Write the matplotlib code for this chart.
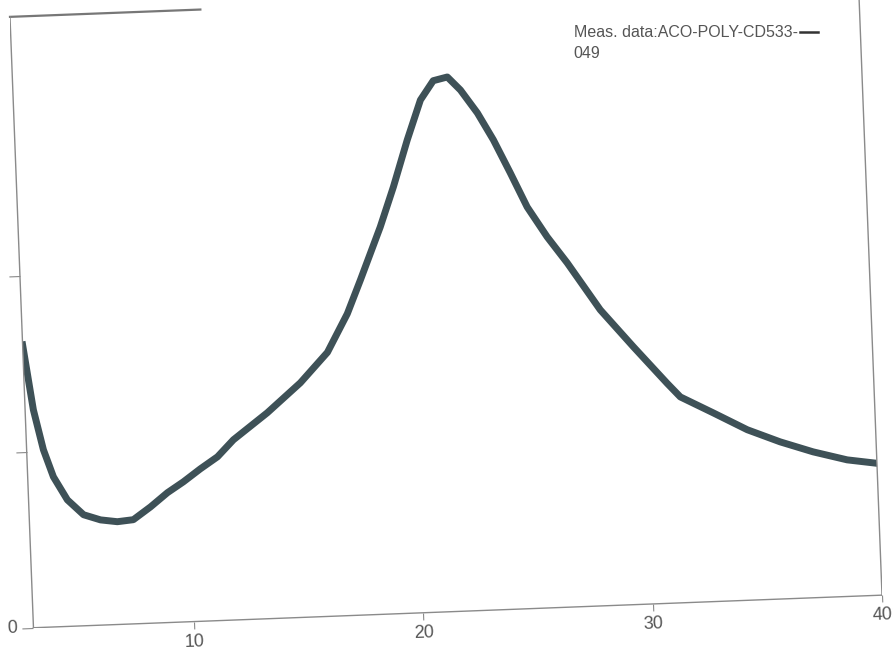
import matplotlib
matplotlib.use("Agg")
import matplotlib.pyplot as plt
from matplotlib.transforms import Affine2D
from mpl_toolkits.axisartist import floating_axes
from mpl_toolkits.axisartist.grid_finder import FixedLocator, DictFormatter

# XRD pattern (2-theta in degrees, intensity in counts)
two_theta = [3.0, 3.36, 3.73, 4.12, 4.69, 5.37, 6.10, 6.83, 7.53, 8.30,
             9.06, 9.77, 10.53, 11.30, 12.02, 13.54, 15.03, 16.26, 17.19, 17.82,
             18.77, 19.41, 20.09, 20.73, 21.32, 21.94, 22.49, 23.19, 23.84, 24.52,
             25.20, 26.02, 26.85, 28.21, 29.59, 31.00, 31.55, 32.96, 34.41, 35.82,
             37.24, 38.71, 40.0]
intensity = [1609, 1238, 1009, 853, 719, 631, 598, 584, 592, 661,
             738, 796, 866, 931, 1024, 1170, 1333, 1500, 1715, 1905,
             2201, 2426, 2689, 2913, 3020, 3038, 2961, 2827, 2671, 2480,
             2282, 2108, 1956, 1682, 1465, 1250, 1170, 1072, 969, 893,
             829, 776, 750]

x_min, x_max = 3, 40
y_min, y_max = 0, 3475
x_ticks = [10, 20, 30, 40]
y_ticks = [0, 1000, 2000]
y_tick_labels = {0: "0", 1000: "", 2000: ""}
legend_label = "Meas. data:ACO-POLY-CD533-"
legend_label_2 = "049"

plt.rcParams['font.family'] = ['Liberation Sans', 'DejaVu Sans']

grey = '#8a8a8a'
text_grey = '#555555'

fig = plt.figure(figsize=(8.95, 6.59), dpi=100)

# the scanned page is tilted a little, so the frame is rotated
tr = Affine2D().scale(22.96, 0.176).rotate_deg(2.2)
helper = floating_axes.GridHelperCurveLinear(
    tr, extremes=(x_min, x_max, y_min, y_max),
    grid_locator1=FixedLocator(x_ticks),
    tick_formatter1=DictFormatter({t: str(t) for t in x_ticks}),
    grid_locator2=FixedLocator(y_ticks),
    tick_formatter2=DictFormatter(y_tick_labels))
ax = fig.add_axes([10 / 895, 31 / 659, 872 / 895, 644 / 659],
                  axes_class=floating_axes.FloatingAxes, grid_helper=helper)
aux = ax.get_aux_axes(tr)
aux.patch = ax.patch
ax.patch.zorder = 0.9

line, = aux.plot(two_theta, intensity, color='#3e5157', linewidth=5,
                 solid_joinstyle='round')

# partial top frame line as on the scan
aux.plot([x_min, 11.3], [y_max, y_max], color='#777777', linewidth=1.6,
         clip_on=False)

# keep the view exactly on the rotated frame
corners = tr.transform([[x_min, y_min], [x_max, y_min],
                        [x_min, y_max], [x_max, y_max]])
ax.set_xlim(corners[:, 0].min(), corners[:, 0].max())
ax.set_ylim(corners[:, 1].min(), corners[:, 1].max())

for side in ['left', 'right', 'bottom', 'top']:
    ax.axis[side].line.set_color(grey)
    ax.axis[side].line.set_linewidth(1.0)
ax.axis['top'].set_visible(False)
ax.axis['right'].toggle(ticks=False, ticklabels=False)

for side, size in [('bottom', 5), ('left', 8)]:
    ax.axis[side].toggle(ticks=True, ticklabels=True)
    ax.axis[side].major_ticks.set_tick_out(True)
    ax.axis[side].major_ticks.set_ticksize(size)
    ax.axis[side].major_ticks.set_color(grey)
    ax.axis[side].major_ticklabels.set_color(text_grey)
    ax.axis[side].major_ticklabels.set_fontsize(13)

leg = fig.legend([line], [legend_label], loc='upper left',
                 bbox_to_anchor=(568 / 895, 1 - 19 / 659), frameon=False,
                 markerfirst=False, handlelength=1.1, handletextpad=0.1,
                 borderaxespad=0, fontsize=11.5, labelcolor=text_grey)
for l in leg.get_lines():
    l.set_linewidth(1.8)
    l.set_color('#333333')
fig.text(573 / 895, 1 - 58 / 659, legend_label_2, fontsize=11.5,
         color=text_grey, va='baseline')

fig.savefig('out.png', dpi=100)
